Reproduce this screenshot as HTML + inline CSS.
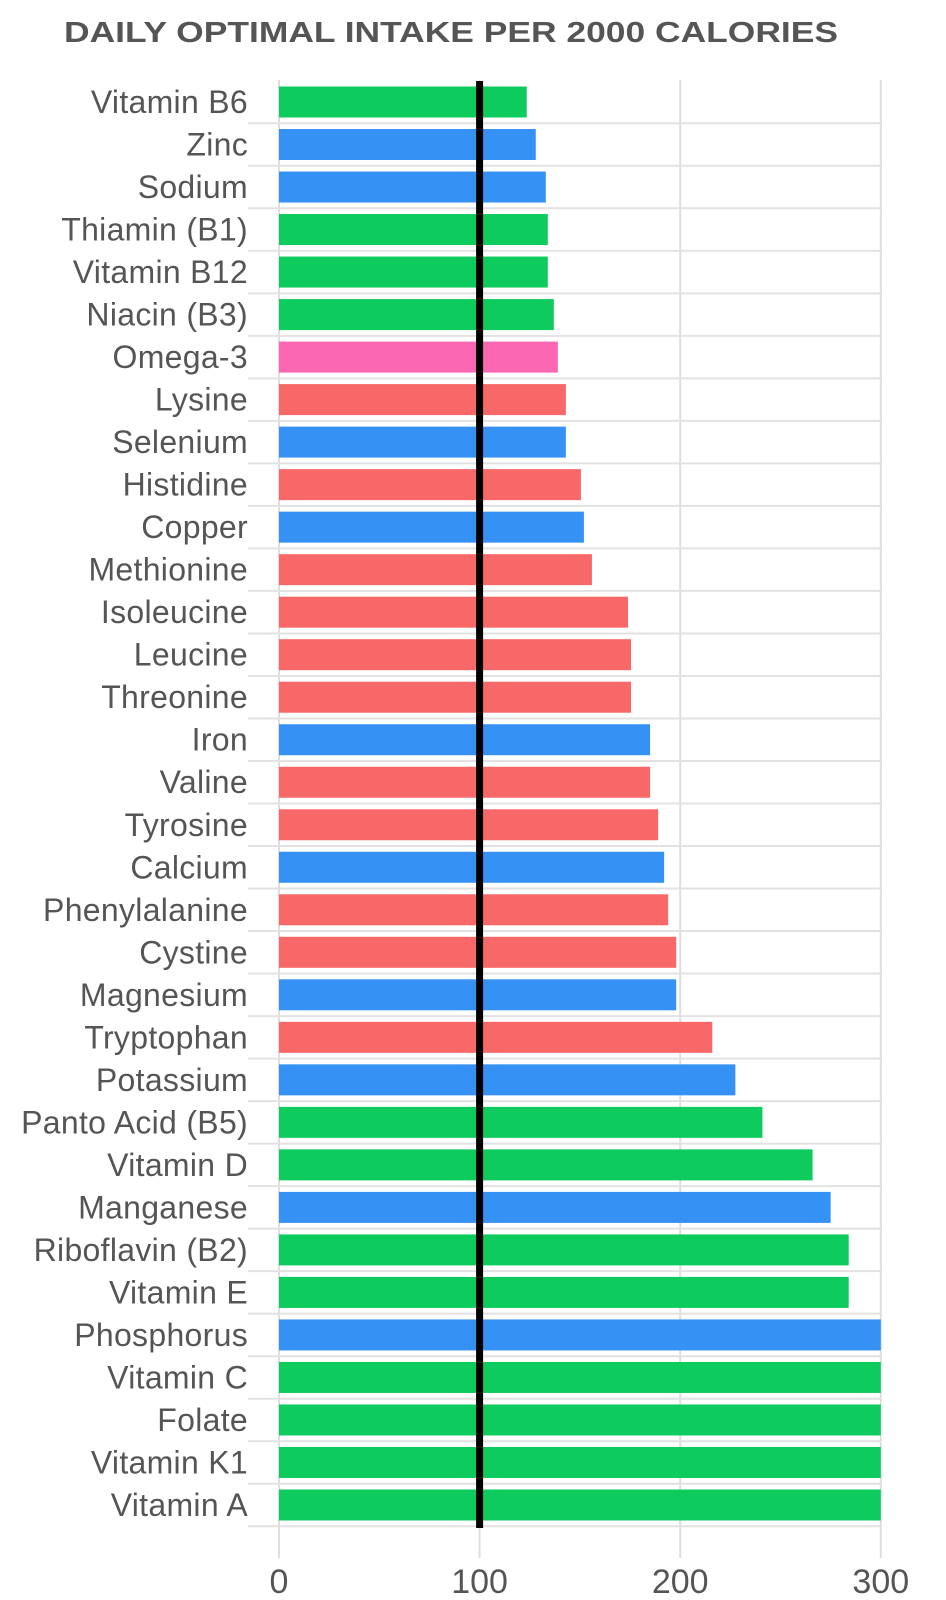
<!DOCTYPE html>
<html><head><meta charset="utf-8"><style>
body{margin:0;background:#fff;}
svg{display:block;font-family:"Liberation Sans",Arial,sans-serif;}
</style></head><body>
<svg id="chart" width="946" height="1600" viewBox="0 0 946 1600" xmlns="http://www.w3.org/2000/svg">
<text x="64" y="42" font-size="29" font-weight="bold" fill="#555" textLength="774" lengthAdjust="spacingAndGlyphs">DAILY OPTIMAL INTAKE PER 2000 CALORIES</text>
</svg>
<script>
const categories=["Vitamin B6","Zinc","Sodium","Thiamin (B1)","Vitamin B12","Niacin (B3)","Omega-3","Lysine","Selenium","Histidine","Copper","Methionine","Isoleucine","Leucine","Threonine","Iron","Valine","Tyrosine","Calcium","Phenylalanine","Cystine","Magnesium","Tryptophan","Potassium","Panto Acid (B5)","Vitamin D","Manganese","Riboflavin (B2)","Vitamin E","Phosphorus","Vitamin C","Folate","Vitamin K1","Vitamin A"];
const values=[123.5,128,133,134,134,137,139,143,143,150.5,152,156,174,175.5,175.5,185,185,189,192,194,198,198,216,227.5,241,266,275,284,284,300,300,300,300,300];
const groups=["v","m","m","v","v","v","o","a","m","a","m","a","a","a","a","m","a","a","m","a","a","m","a","m","v","v","m","v","v","m","v","v","v","v"];
const tickValues=[0,100,200,300];
const referenceValue=100;
const colors={v:"#0ecb5e",m:"#3592f4",a:"#f86868",o:"#fb67b3"};
const svg=document.getElementById('chart');
const NS="http://www.w3.org/2000/svg";
const x=v=>279+v*2.006;
const step=(1505-102)/(categories.length-1);
const yc=i=>102+i*step;
function mk(t,a){const e=document.createElementNS(NS,t);for(const k in a)e.setAttribute(k,a[k]);svg.appendChild(e);return e;}
tickValues.forEach(t=>{
  const g=mk('line',{x1:x(t),x2:x(t),y1:80,y2:1558,stroke:'#dedede','stroke-width':2});
  
  
  const tl=mk('text',{x:x(t),y:1593,'font-size':34,fill:'#555','text-anchor':'middle'});
  tl.textContent=t;
  
  
});
for(let i=0;i<categories.length;i++){
  const gy=yc(i)+step/2;
  const hl=mk('line',{x1:248,x2:881,y1:gy,y2:gy,stroke:'#e2e2e2','stroke-width':2});
  
  
}
categories.forEach((c,i)=>{
  const b=mk('rect',{x:x(0),y:yc(i)-15.5,width:x(values[i])-x(0),height:31,fill:colors[groups[i]]});
  
  
  const l=mk('text',{x:248,y:yc(i)+11,'font-size':32,fill:'#555','text-anchor':'end','letter-spacing':'0.3'});
  l.textContent=c;
  
  
});
const rl=mk('line',{x1:x(referenceValue),x2:x(referenceValue),y1:81,y2:1528,stroke:'#000','stroke-width':7});


</script>
</body></html>
